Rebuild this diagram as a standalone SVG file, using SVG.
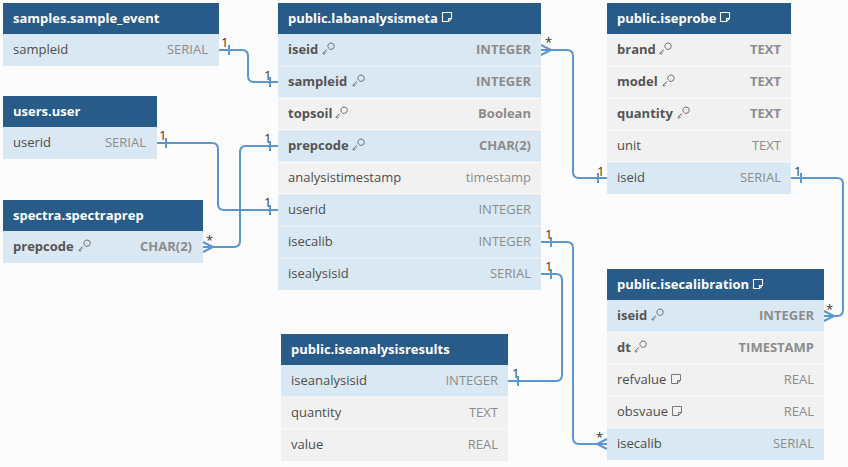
<svg xmlns="http://www.w3.org/2000/svg" xmlns:xlink="http://www.w3.org/1999/xlink" width="848" height="467" viewBox="0 0 848 467">
<style>
.bg{fill:#fcfcfc}
.hd{fill:#295b89}
.ht{font-family:"Open Sans","Noto Sans",sans-serif;font-size:13px;font-weight:bold;fill:#ffffff}
.rb{fill:#d9e8f2}
.rg{fill:#f1f1f1}
.sep{stroke:#ffffff;stroke-opacity:0.7;stroke-width:1}
.n{font-family:"Open Sans","Noto Sans",sans-serif;font-size:13px;fill:#4d4d4d}
.nb{font-family:"Open Sans","Noto Sans",sans-serif;font-size:13px;font-weight:bold;fill:#555555}
.t{font-family:"Open Sans","Noto Sans",sans-serif;font-size:13px;fill:#8c8c8c;text-anchor:end}
.tb{font-family:"Open Sans","Noto Sans",sans-serif;font-size:13px;font-weight:bold;fill:#8c8c8c;text-anchor:end}
.c{fill:none;stroke:#5a97d0;stroke-width:2}
.tk{stroke:#5a97d0;stroke-width:2}
.lb{font-family:"Open Sans","Noto Sans",sans-serif;font-size:13px;fill:#333333}
.key{fill:none;stroke:#707070;stroke-width:1}
.note{fill:none;stroke:#777777;stroke-width:1}
.noteh{fill:none;stroke:#ffffff;stroke-width:1.1}
</style>
<defs>
<g id="keyi">
<path d="M6.2,0.8 A3.2,3.2 0 1 1 9.2,5.4 A3.2,3.2 0 0 1 6.2,0.8 Z" class="key"/>
<path d="M4.8,5.4 L0.8,9.4 L2.4,10.2 L3.2,9.2 L2.6,8.4 M3.6,6.6 L4.6,7.6" class="key"/>
</g>
<g id="notei">
<path d="M0.5,0.5 H9.5 V6.5 L6.5,9.5 H0.5 Z M9.5,6.5 H6.5 V9.5" class="note"/>
</g>
<g id="noteh">
<path d="M0.5,0.5 H9.5 V6.5 L6.5,9.5 H0.5 Z M9.5,6.5 H6.5 V9.5" class="noteh"/>
</g>
</defs>
<rect class="bg" x="0" y="0" width="848" height="467"/>

<g id="connectors">
<path class="c" d="M219,50 H242 Q248,50 248,56 V76 Q248,82 254,82 H278"/>
<path class="c" d="M157,143 H212 Q218,143 218,149 V204 Q218,210 224,210 H278"/>
<path class="c" d="M203,247 H234 Q240,247 240,241 V152 Q240,146 246,146 H278"/>
<path class="c" d="M541,50 H567 Q573,50 573,56 V172 Q573,178 579,178 H607"/>
<path class="c" d="M791,178 H837 Q843,178 843,184 V310 Q843,316 837,316 H824"/>
<path class="c" d="M541,242 H567 Q573,242 573,248 V438 Q573,444 579,444 H607"/>
<path class="c" d="M541,274 H556 Q562,274 562,280 V375 Q562,381 556,381 H508"/>
<line class="tk" x1="229" y1="45" x2="229" y2="55"/>
<line class="tk" x1="270" y1="77" x2="270" y2="87"/>
<line class="tk" x1="166" y1="138" x2="166" y2="148"/>
<line class="tk" x1="270" y1="141" x2="270" y2="151"/>
<line class="tk" x1="270" y1="205" x2="270" y2="215"/>
<line class="tk" x1="598" y1="173" x2="598" y2="183"/>
<line class="tk" x1="801" y1="173" x2="801" y2="183"/>
<line class="tk" x1="551" y1="237" x2="551" y2="247"/>
<line class="tk" x1="551" y1="269" x2="551" y2="279"/>
<line class="tk" x1="518" y1="376" x2="518" y2="386"/>
<path class="c" d="M203,242 L213,247 L203,252"/>
<path class="c" d="M541,45 L551,50 L541,55"/>
<path class="c" d="M824,311 L834,316 L824,321"/>
<path class="c" d="M607,439 L597,444 L607,449"/>
<text class="lb" x="221" y="47">1</text>
<text class="lb" x="264" y="80">1</text>
<text class="lb" x="159" y="140">1</text>
<text class="lb" x="264" y="143">1</text>
<text class="lb" x="264" y="207">1</text>
<text class="lb" x="206" y="245">*</text>
<text class="lb" x="545" y="47">*</text>
<text class="lb" x="597" y="176">1</text>
<text class="lb" x="794" y="176">1</text>
<text class="lb" x="826" y="314">*</text>
<text class="lb" x="545" y="239">1</text>
<text class="lb" x="545" y="271">1</text>
<text class="lb" x="512" y="378">1</text>
<text class="lb" x="596" y="442">*</text>
</g>

<g id="samples.sample_event">
<rect class="hd" x="3" y="3" width="216" height="31"/>
<text class="ht" x="13" y="23">samples.sample_event</text>
<rect class="rb" x="3" y="34" width="216" height="32"/>
<text class="n" x="13" y="54">sampleid</text>
<text class="t" x="208" y="54">SERIAL</text>
</g>

<g id="public.labanalysismeta">
<rect class="hd" x="278" y="3" width="263" height="31"/>
<text class="ht" x="288" y="23">public.labanalysismeta</text>
<use xlink:href="#noteh" x="442" y="12"/>
<rect class="rb" x="278" y="34" width="263" height="32"/>
<rect class="rb" x="278" y="66" width="263" height="32"/>
<rect class="rg" x="278" y="98" width="263" height="32"/>
<rect class="rb" x="278" y="130" width="263" height="32"/>
<rect class="rg" x="278" y="162" width="263" height="32"/>
<rect class="rb" x="278" y="194" width="263" height="32"/>
<rect class="rb" x="278" y="226" width="263" height="32"/>
<rect class="rb" x="278" y="258" width="263" height="32"/>
<line class="sep" x1="278" y1="66" x2="541" y2="66"/>
<line class="sep" x1="278" y1="98" x2="541" y2="98"/>
<line class="sep" x1="278" y1="130" x2="541" y2="130"/>
<line class="sep" x1="278" y1="162" x2="541" y2="162"/>
<line class="sep" x1="278" y1="194" x2="541" y2="194"/>
<line class="sep" x1="278" y1="226" x2="541" y2="226"/>
<line class="sep" x1="278" y1="258" x2="541" y2="258"/>
<text class="nb" x="288" y="54">iseid</text><use xlink:href="#keyi" x="322" y="44"/>
<text class="tb" x="531" y="54">INTEGER</text>
<text class="nb" x="288" y="86">sampleid</text><use xlink:href="#keyi" x="352" y="76"/>
<text class="tb" x="531" y="86">INTEGER</text>
<text class="nb" x="288" y="118">topsoil</text><use xlink:href="#keyi" x="335" y="108"/>
<text class="tb" x="531" y="118">Boolean</text>
<text class="nb" x="288" y="150">prepcode</text><use xlink:href="#keyi" x="352" y="140"/>
<text class="tb" x="531" y="150">CHAR(2)</text>
<text class="n" x="288" y="182">analysistimestamp</text>
<text class="t" x="531" y="182">timestamp</text>
<text class="n" x="288" y="214">userid</text>
<text class="t" x="531" y="214">INTEGER</text>
<text class="n" x="288" y="246">isecalib</text>
<text class="t" x="531" y="246">INTEGER</text>
<text class="n" x="288" y="278">isealysisid</text>
<text class="t" x="531" y="278">SERIAL</text>
</g>

<g id="public.iseprobe">
<rect class="hd" x="607" y="3" width="184" height="31"/>
<text class="ht" x="617" y="23">public.iseprobe</text>
<use xlink:href="#noteh" x="720" y="12"/>
<rect class="rg" x="607" y="34" width="184" height="128"/>
<rect class="rb" x="607" y="162" width="184" height="32"/>
<line class="sep" x1="607" y1="66" x2="791" y2="66"/>
<line class="sep" x1="607" y1="98" x2="791" y2="98"/>
<line class="sep" x1="607" y1="130" x2="791" y2="130"/>
<line class="sep" x1="607" y1="162" x2="791" y2="162"/>
<text class="nb" x="617" y="54">brand</text><use xlink:href="#keyi" x="659" y="44"/>
<text class="tb" x="781" y="54">TEXT</text>
<text class="nb" x="617" y="86">model</text><use xlink:href="#keyi" x="662" y="76"/>
<text class="tb" x="781" y="86">TEXT</text>
<text class="nb" x="617" y="118">quantity</text><use xlink:href="#keyi" x="677" y="108"/>
<text class="tb" x="781" y="118">TEXT</text>
<text class="n" x="617" y="150">unit</text>
<text class="t" x="781" y="150">TEXT</text>
<text class="n" x="617" y="182">iseid</text>
<text class="t" x="781" y="182">SERIAL</text>
</g>

<g id="users.user">
<rect class="hd" x="3" y="96" width="154" height="31"/>
<text class="ht" x="13" y="116">users.user</text>
<rect class="rb" x="3" y="127" width="154" height="32"/>
<text class="n" x="13" y="147">userid</text>
<text class="t" x="146" y="147">SERIAL</text>
</g>

<g id="spectra.spectraprep">
<rect class="hd" x="3" y="200" width="200" height="31"/>
<text class="ht" x="13" y="220">spectra.spectraprep</text>
<rect class="rb" x="3" y="231" width="200" height="32"/>
<text class="nb" x="13" y="251">prepcode</text><use xlink:href="#keyi" x="78" y="241"/>
<text class="tb" x="192" y="251">CHAR(2)</text>
</g>

<g id="public.iseanalysisresults">
<rect class="hd" x="281" y="334" width="227" height="31"/>
<text class="ht" x="291" y="354">public.iseanalysisresults</text>
<rect class="rb" x="281" y="365" width="227" height="32"/>
<rect class="rg" x="281" y="397" width="227" height="64"/>
<line class="sep" x1="281" y1="397" x2="508" y2="397"/>
<line class="sep" x1="281" y1="429" x2="508" y2="429"/>
<text class="n" x="291" y="385">iseanalysisid</text>
<text class="t" x="498" y="385">INTEGER</text>
<text class="n" x="291" y="417">quantity</text>
<text class="t" x="498" y="417">TEXT</text>
<text class="n" x="291" y="449">value</text>
<text class="t" x="498" y="449">REAL</text>
</g>

<g id="public.isecalibration">
<rect class="hd" x="607" y="269" width="217" height="31"/>
<text class="ht" x="617" y="289">public.isecalibration</text>
<use xlink:href="#noteh" x="753" y="279"/>
<rect class="rb" x="607" y="300" width="217" height="32"/>
<rect class="rg" x="607" y="332" width="217" height="96"/>
<rect class="rb" x="607" y="428" width="217" height="32"/>
<line class="sep" x1="607" y1="332" x2="824" y2="332"/>
<line class="sep" x1="607" y1="364" x2="824" y2="364"/>
<line class="sep" x1="607" y1="396" x2="824" y2="396"/>
<line class="sep" x1="607" y1="428" x2="824" y2="428"/>
<text class="nb" x="617" y="320">iseid</text><use xlink:href="#keyi" x="651" y="310"/>
<text class="tb" x="814" y="320">INTEGER</text>
<text class="nb" x="617" y="352">dt</text><use xlink:href="#keyi" x="634" y="342"/>
<text class="tb" x="814" y="352">TIMESTAMP</text>
<text class="n" x="617" y="384">refvalue</text><use xlink:href="#notei" x="671" y="374"/>
<text class="t" x="814" y="384">REAL</text>
<text class="n" x="617" y="416">obsvaue</text><use xlink:href="#notei" x="672" y="406"/>
<text class="t" x="814" y="416">REAL</text>
<text class="n" x="617" y="448">isecalib</text>
<text class="t" x="814" y="448">SERIAL</text>
</g>
</svg>
